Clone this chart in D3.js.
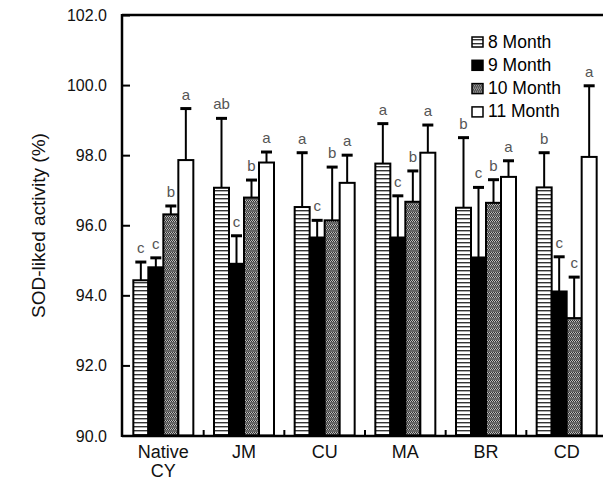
<!DOCTYPE html>
<html>
<head>
<meta charset="utf-8">
<script src="https://cdn.jsdelivr.net/npm/d3@7"></script>
<style>
  body { margin: 0; background: #fff; }
  svg { display: block; font-family: Arial, "Liberation Sans", sans-serif; }
</style>
</head>
<body>
<div id="chart"></div>
<script>
// values
const categories = ['Native CY', 'JM', 'CU', 'MA', 'BR', 'CD']
const seriesNames = ['8 Month', '9 Month', '10 Month', '11 Month']
const means8 = [94.43, 97.07, 96.52, 97.76, 96.50, 97.08]
const means9 = [94.80, 94.90, 95.65, 95.65, 95.08, 94.11]
const means10 = [96.31, 96.79, 96.14, 96.67, 96.64, 93.35]
const means11 = [97.86, 97.79, 97.21, 98.07, 97.38, 97.95]
const err8 = [0.52, 1.98, 1.55, 1.14, 2.00, 0.99]
const err9 = [0.27, 0.80, 0.49, 1.19, 2.00, 0.99]
const err10 = [0.24, 0.50, 1.52, 0.88, 0.66, 1.17]
const err11 = [1.47, 0.30, 0.79, 0.79, 0.46, 2.03]
const letters8 = ['c', 'ab', 'a', 'a', 'b', 'b']
const letters9 = ['c', 'c', 'c', 'c', 'c', 'c']
const letters10 = ['b', 'b', 'b', 'b', 'b', 'c']
const letters11 = ['a', 'a', 'a', 'a', 'a', 'a']
const yTicks = [90, 92, 94, 96, 98, 100, 102]

const means = [means8, means9, means10, means11]
const errs = [err8, err9, err10, err11]
const letters = [letters8, letters9, letters10, letters11]

const width = 603
const height = 497
const plotLeft = 122
const plotTop = 15
const plotBottom = 436

const svg = d3.select('#chart').append('svg')
  .attr('width', width).attr('height', height)

// fill patterns
const defs = svg.append('defs')
const stripes = defs.append('pattern').attr('id', 'p8')
  .attr('patternUnits', 'userSpaceOnUse').attr('width', 8).attr('height', 4)
stripes.append('rect').attr('width', 8).attr('height', 4).attr('fill', '#fff')
stripes.append('rect').attr('y', 2).attr('width', 8).attr('height', 1.4).attr('fill', '#333')

const dither = defs.append('pattern').attr('id', 'p10')
  .attr('patternUnits', 'userSpaceOnUse').attr('width', 2).attr('height', 4)
dither.append('rect').attr('width', 2).attr('height', 4).attr('fill', '#bbb')
dither.append('rect').attr('width', 1).attr('height', 1).attr('fill', '#333')
dither.append('rect').attr('x', 1).attr('y', 1).attr('width', 1).attr('height', 1).attr('fill', '#333')
dither.append('rect').attr('y', 2).attr('width', 2).attr('height', 2).attr('fill', '#666')

const fills = ['url(#p8)', '#000', 'url(#p10)', '#fff']

const x0 = d3.scaleBand().domain(categories).range([123, 607])
const groupW = 60
const x1 = d3.scaleBand().domain(seriesNames).range([0, groupW])
const y = d3.scaleLinear().domain([90, 102]).range([435.5, plotTop])

const rows = []
seriesNames.forEach((s, si) => {
  categories.forEach((c, ci) => {
    rows.push({ s, si, c, v: means[si][ci], e: errs[si][ci], l: letters[si][ci] })
  })
})
const bx = d => x0(d.c) + (x0.bandwidth() - groupW) / 2 + x1(d.s)
const cx = d => bx(d) + x1.bandwidth() / 2

// bars
svg.append('g').selectAll('rect').data(rows).enter().append('rect')
  .attr('x', d => bx(d))
  .attr('y', d => y(d.v))
  .attr('width', x1.bandwidth())
  .attr('height', d => y(90) - y(d.v))
  .attr('fill', d => fills[d.si])
  .attr('stroke', '#000')
  .attr('stroke-width', 2)

// error bars (upper only)
const eb = svg.append('g').attr('stroke', '#000')
eb.selectAll('line.v').data(rows).enter().append('line')
  .attr('class', 'v')
  .attr('x1', cx).attr('x2', cx)
  .attr('y1', d => y(d.v)).attr('y2', d => y(d.v + d.e))
  .attr('stroke-width', 2)
eb.selectAll('line.cap').data(rows).enter().append('line')
  .attr('class', 'cap')
  .attr('x1', d => cx(d) - 5.5).attr('x2', d => cx(d) + 5.5)
  .attr('y1', d => y(d.v + d.e)).attr('y2', d => y(d.v + d.e))
  .attr('stroke-width', 3)

// significance letters
svg.append('g').selectAll('text').data(rows).enter().append('text')
  .attr('x', cx)
  .attr('y', d => y(d.v + d.e) - 9)
  .attr('text-anchor', 'middle')
  .attr('font-size', 15)
  .attr('fill', '#555')
  .text(d => d.l)

// frame: left axis, top and bottom lines
svg.append('line').attr('x1', plotLeft).attr('x2', plotLeft).attr('y1', plotTop - 1).attr('y2', plotBottom + 1)
  .attr('stroke', '#000').attr('stroke-width', 2.5)
svg.append('line').attr('x1', plotLeft).attr('x2', width).attr('y1', plotTop).attr('y2', plotTop)
  .attr('stroke', '#000').attr('stroke-width', 2.5)
svg.append('line').attr('x1', plotLeft).attr('x2', width).attr('y1', plotBottom).attr('y2', plotBottom)
  .attr('stroke', '#000').attr('stroke-width', 2.5)

// y axis ticks and labels
const yAxis = svg.append('g').attr('transform', `translate(${plotLeft},0)`)
  .call(d3.axisRight(y).tickValues(yTicks).tickSize(8).tickFormat(''))
yAxis.select('.domain').remove()
yAxis.selectAll('.tick line').attr('stroke-width', 2)
svg.append('g').selectAll('text').data(yTicks).enter().append('text')
  .attr('x', 107)
  .attr('y', d => y(d) + 6)
  .attr('text-anchor', 'end')
  .attr('font-size', 16)
  .attr('fill', '#111')
  .text(d => d.toFixed(1))

svg.append('text')
  .attr('transform', `translate(45,${(plotTop + plotBottom) / 2}) rotate(-90)`)
  .attr('text-anchor', 'middle')
  .attr('font-size', 19)
  .attr('fill', '#111')
  .text('SOD-liked activity (%)')

// category ticks (small, pointing up)
svg.append('g').selectAll('line').data(categories.slice(1)).enter().append('line')
  .attr('x1', d => x0(d)).attr('x2', d => x0(d))
  .attr('y1', plotBottom).attr('y2', plotBottom - 6)
  .attr('stroke', '#000').attr('stroke-width', 2)

// category labels
const catLabels = svg.append('g').selectAll('text').data(categories).enter().append('text')
  .attr('x', d => x0(d) + x0.bandwidth() / 2)
  .attr('y', 458)
  .attr('text-anchor', 'middle')
  .attr('font-size', 18)
  .attr('fill', '#111')
catLabels.each(function (d) {
  const parts = d.split(' ')
  parts.forEach((p, i) => {
    d3.select(this).append('tspan')
      .attr('x', x0(d) + x0.bandwidth() / 2)
      .attr('dy', i === 0 ? 0 : 19)
      .text(p)
  })
})

// legend
const legend = svg.append('g').attr('transform', 'translate(472,37)')
seriesNames.forEach((s, i) => {
  const row = legend.append('g').attr('transform', `translate(0,${i * 23.3})`)
  row.append('rect').attr('x', 0).attr('y', 0).attr('width', 11).attr('height', 10)
    .attr('fill', fills[i]).attr('stroke', '#000').attr('stroke-width', 1.5)
  row.append('text').attr('x', 16).attr('y', 10.5)
    .attr('font-size', 17.5).attr('fill', '#000')
    .text(s)
})
</script>
</body>
</html>
